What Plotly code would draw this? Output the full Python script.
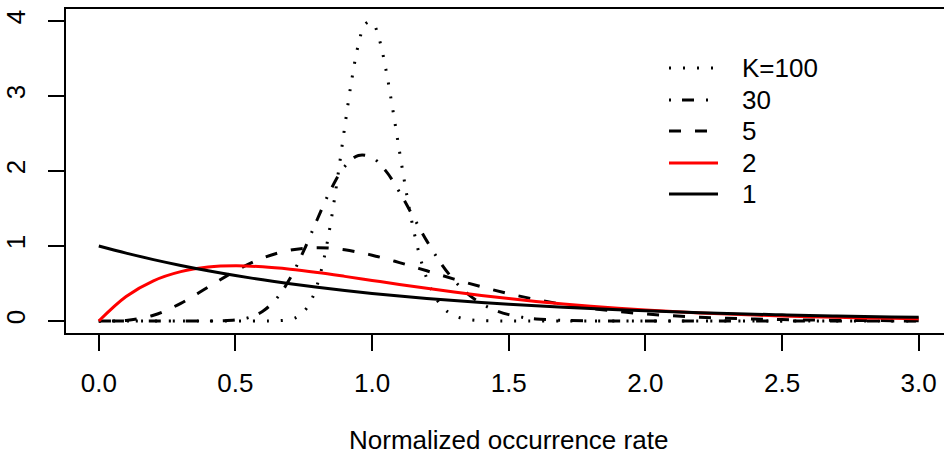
import plotly.graph_objects as go

# ---- data ----
x_k100 = [0.0, 0.5, 0.6, 0.65, 0.7, 0.725, 0.75, 0.775, 0.8, 0.825, 0.85, 0.875, 0.9, 0.925,
          0.95, 0.975, 1.0, 1.025, 1.05, 1.075, 1.1, 1.125, 1.15, 1.175, 1.2, 1.225, 1.25,
          1.275, 1.3, 1.325, 1.35, 1.375, 1.4, 1.45, 1.5, 1.6, 2.0, 2.5, 3.0]
y_k100 = [0, 0, 0.0001, 0.0019, 0.0197, 0.0521, 0.1227, 0.2589, 0.4924, 0.8504, 1.3411,
          1.9411, 2.5913, 3.2047, 3.6870, 3.9603, 3.9861, 3.7712, 3.3636, 2.8366, 2.2671,
          1.7216, 1.2451, 0.8592, 0.5670, 0.3584, 0.2174, 0.1268, 0.0711, 0.0385, 0.0201,
          0.0101, 0.0050, 0.0011, 0.0002, 0, 0, 0, 0]

x_k30 = [0.0, 0.1, 0.2, 0.3, 0.4, 0.45, 0.5, 0.55, 0.6, 0.65, 0.7, 0.75, 0.8, 0.85, 0.9, 0.95,
         1.0, 1.05, 1.1, 1.15, 1.2, 1.25, 1.3, 1.35, 1.4, 1.45, 1.5, 1.55, 1.6, 1.7, 1.8, 1.9,
         2.0, 2.5, 3.0]
y_k30 = [0, 0, 0, 0, 0.0004, 0.0028, 0.0133, 0.0470, 0.1307, 0.2971, 0.5685, 0.9381, 1.3603,
         1.7608, 2.0614, 2.2065, 2.1790, 2.0013, 1.7210, 1.3938, 1.0684, 0.7789, 0.5420,
         0.3612, 0.2314, 0.1429, 0.0852, 0.0492, 0.0276, 0.0080, 0.0021, 0.0005, 0.0001, 0, 0]

x_grid = [0.0, 0.1, 0.2, 0.3, 0.4, 0.5, 0.6, 0.7, 0.8, 0.9, 1.0, 1.1, 1.2, 1.3, 1.4, 1.5, 1.6,
          1.7, 1.8, 1.9, 2.0, 2.1, 2.2, 2.3, 2.4, 2.5, 2.6, 2.7, 2.8, 2.9, 3.0]
y_k5 = [0, 0.0079, 0.0766, 0.2353, 0.4511, 0.6680, 0.8402, 0.9441, 0.9768, 0.9490, 0.8773,
        0.7791, 0.6693, 0.5591, 0.4561, 0.3646, 0.2863, 0.2213, 0.1687, 0.1270, 0.0946,
        0.0697, 0.0509, 0.0369, 0.0265, 0.0190, 0.0135, 0.0095, 0.0067, 0.0046, 0.0032]
y_k2 = [0, 0.3275, 0.5363, 0.6586, 0.7189, 0.7358, 0.7229, 0.6905, 0.6461, 0.5951, 0.5413,
        0.4875, 0.4355, 0.3862, 0.3405, 0.2987, 0.2609, 0.2269, 0.1967, 0.1700, 0.1465,
        0.1260, 0.1080, 0.0925, 0.0790, 0.0674, 0.0574, 0.0488, 0.0414, 0.0351, 0.0298]
y_k1 = [1.0, 0.9048, 0.8187, 0.7408, 0.6703, 0.6065, 0.5488, 0.4966, 0.4493, 0.4066, 0.3679,
        0.3329, 0.3012, 0.2725, 0.2466, 0.2231, 0.2019, 0.1827, 0.1653, 0.1496, 0.1353,
        0.1225, 0.1108, 0.1003, 0.0907, 0.0821, 0.0743, 0.0672, 0.0608, 0.0550, 0.0498]

legend_labels = ["K=100", "30", "5", "2", "1"]
x_ticks = [0.0, 0.5, 1.0, 1.5, 2.0, 2.5, 3.0]
y_ticks = [0, 1, 2, 3, 4]

# ---- styles ----
DOT = "2px,12px"
DOTDASH = "2px,11px,12px,12px"
DASH = "12px,14px"
styles = [
    dict(color="black", dash=DOT),
    dict(color="black", dash=DOTDASH),
    dict(color="black", dash=DASH),
    dict(color="red", dash="solid"),
    dict(color="black", dash="solid"),
]
series = [(x_k100, y_k100), (x_k30, y_k30), (x_grid, y_k5), (x_grid, y_k2), (x_grid, y_k1)]

W, H = 944, 458
ML, MT, MB, MR = 66, 9, 125, 0
PW, PH = W - ML - MR, H - MT - MB
FONT = "Liberation Sans, Arial, Helvetica, sans-serif"
FS = 26

fig = go.Figure()
for (xs, ys), st, name in zip(series, styles, legend_labels):
    fig.add_trace(go.Scatter(x=xs, y=ys, mode="lines", name=name, showlegend=False,
                             line=dict(color=st["color"], dash=st["dash"], width=3,
                                       shape="spline", smoothing=1)))

def px2paper(px, py):
    return (px - ML) / PW, (MT + PH - py) / PH

shapes = []
annotations = []
row_y = [68, 100, 131, 163, 194]
for st, name, py in zip(styles, legend_labels, row_y):
    x0, y0 = px2paper(669, py)
    x1, _ = px2paper(718, py)
    shapes.append(dict(type="line", xref="paper", yref="paper", x0=x0, x1=x1, y0=y0, y1=y0,
                       line=dict(color=st["color"], dash=st["dash"], width=3)))
    tx, ty = px2paper(740, py)
    annotations.append(dict(text=name, xref="paper", yref="paper", x=tx, y=ty,
                            xanchor="left", yanchor="middle", showarrow=False,
                            font=dict(family=FONT, size=FS, color="black")))

_, ty = px2paper(0, 440)
annotations.append(dict(text="Normalized occurrence rate", xref="x", yref="paper", x=1.5, y=ty,
                        xanchor="center", yanchor="middle", showarrow=False,
                        font=dict(family=FONT, size=FS, color="black")))

x_left = -0.12
x_right = x_left + PW / 273.3

fig.update_layout(
    width=W, height=H,
    margin=dict(l=ML, r=MR, t=MT, b=MB),
    paper_bgcolor="white", plot_bgcolor="white",
    font=dict(family=FONT, size=FS, color="black"),
    shapes=shapes, annotations=annotations,
    xaxis=dict(range=[x_left, x_right], tickvals=x_ticks, tickformat=".1f",
               showgrid=False, zeroline=False, showline=True, mirror=True,
               linecolor="black", linewidth=2, ticks="outside", ticklen=16,
               tickwidth=2, tickcolor="black", ticklabelstandoff=10,
               tickfont=dict(family=FONT, size=FS, color="black")),
    yaxis=dict(range=[-0.16, 4.16], tickvals=y_ticks, showgrid=False, zeroline=False,
               showline=True, mirror=False, linecolor="black", linewidth=2,
               ticks="outside", ticklen=16, tickwidth=2, tickcolor="black",
               tickangle=-90, ticklabelstandoff=13,
               tickfont=dict(family=FONT, size=FS, color="black")),
)

fig.write_html("out.html", config={"displayModeBar": False},
               post_script="document.body.style.margin='0';document.body.style.overflow='hidden';")
